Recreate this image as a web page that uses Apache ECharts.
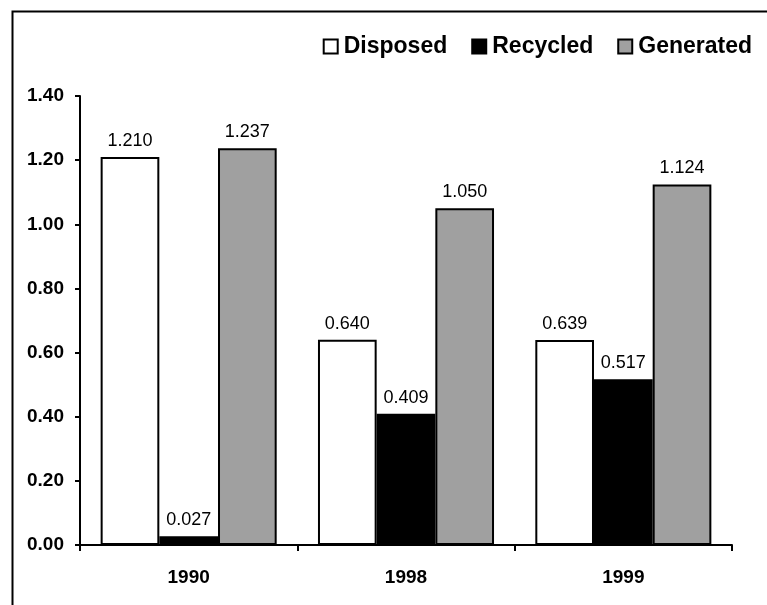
<!DOCTYPE html>
<html>
<head>
<meta charset="utf-8">
<script src="https://cdn.jsdelivr.net/npm/echarts@6/dist/echarts.min.js"></script>
<style>
html,body{margin:0;padding:0;background:#fff;}
#chart{width:767px;height:605px;}
</style>
</head>
<body>
<div id="chart"></div>
<script>
var categories = ['1990', '1998', '1999'];
var disposed = [1.210, 0.640, 0.639];
var recycled = [0.027, 0.409, 0.517];
var generated = [1.237, 1.050, 1.124];
var yTicks = [0, 0.2, 0.4, 0.6, 0.8, 1.0, 1.2, 1.4];

var FONT = 'Liberation Sans, Arial, sans-serif';
var chart = echarts.init(document.getElementById('chart'), null, {renderer: 'canvas'});

function labelCfg() {
  return {
    show: true,
    position: 'top',
    distance: 7,
    color: '#000',
    fontFamily: FONT,
    fontSize: 18,
    formatter: function (p) { return p.value.toFixed(3); }
  };
}

var option = {
  backgroundColor: '#fff',
  animation: false,
  graphic: [{
    type: 'rect',
    left: 10, top: 9,
    shape: {x: 0, y: 0, width: 800, height: 700},
    style: {fill: 'none', stroke: '#000', lineWidth: 2},
    silent: true
  }],
  legend: {
    right: 10,
    top: 30,
    itemWidth: 14,
    itemHeight: 14,
    itemGap: 24,
    icon: 'rect',
    textStyle: {fontFamily: FONT, fontSize: 23, fontWeight: 'bold', color: '#000', padding: [2, 0, 0, 1]},
    data: ['Disposed', 'Recycled', 'Generated']
  },
  grid: {left: 80, right: 35, top: 96, bottom: 60, containLabel: false},
  xAxis: {
    type: 'category',
    data: categories,
    axisLine: {lineStyle: {color: '#000', width: 2}},
    axisTick: {show: true, length: 6, lineStyle: {color: '#000', width: 2}, alignWithLabel: false},
    axisLabel: {fontFamily: FONT, fontSize: 19, fontWeight: 'bold', color: '#000', margin: 23}
  },
  yAxis: {
    type: 'value',
    min: 0, max: 1.4, interval: 0.2,
    axisLine: {show: true, lineStyle: {color: '#000', width: 2}},
    axisTick: {show: true, length: 5, lineStyle: {color: '#000', width: 2}},
    splitLine: {show: false},
    axisLabel: {
      fontFamily: FONT, fontSize: 19, fontWeight: 'bold', color: '#000', margin: 16,
      formatter: function (v) { return v.toFixed(2); }
    }
  },
  series: [
    {name: 'Disposed', type: 'bar', data: disposed, barGap: '0%', barCategoryGap: '19%',
     itemStyle: {color: '#ffffff', borderColor: '#000', borderWidth: 2}, label: labelCfg()},
    {name: 'Recycled', type: 'bar', data: recycled, barGap: '0%', barCategoryGap: '19%',
     itemStyle: {color: '#000000', borderColor: '#000', borderWidth: 2}, label: labelCfg()},
    {name: 'Generated', type: 'bar', data: generated, barGap: '0%', barCategoryGap: '19%',
     itemStyle: {color: '#a0a0a0', borderColor: '#000', borderWidth: 2}, label: labelCfg()}
  ]
};
chart.setOption(option);
</script>
</body>
</html>
